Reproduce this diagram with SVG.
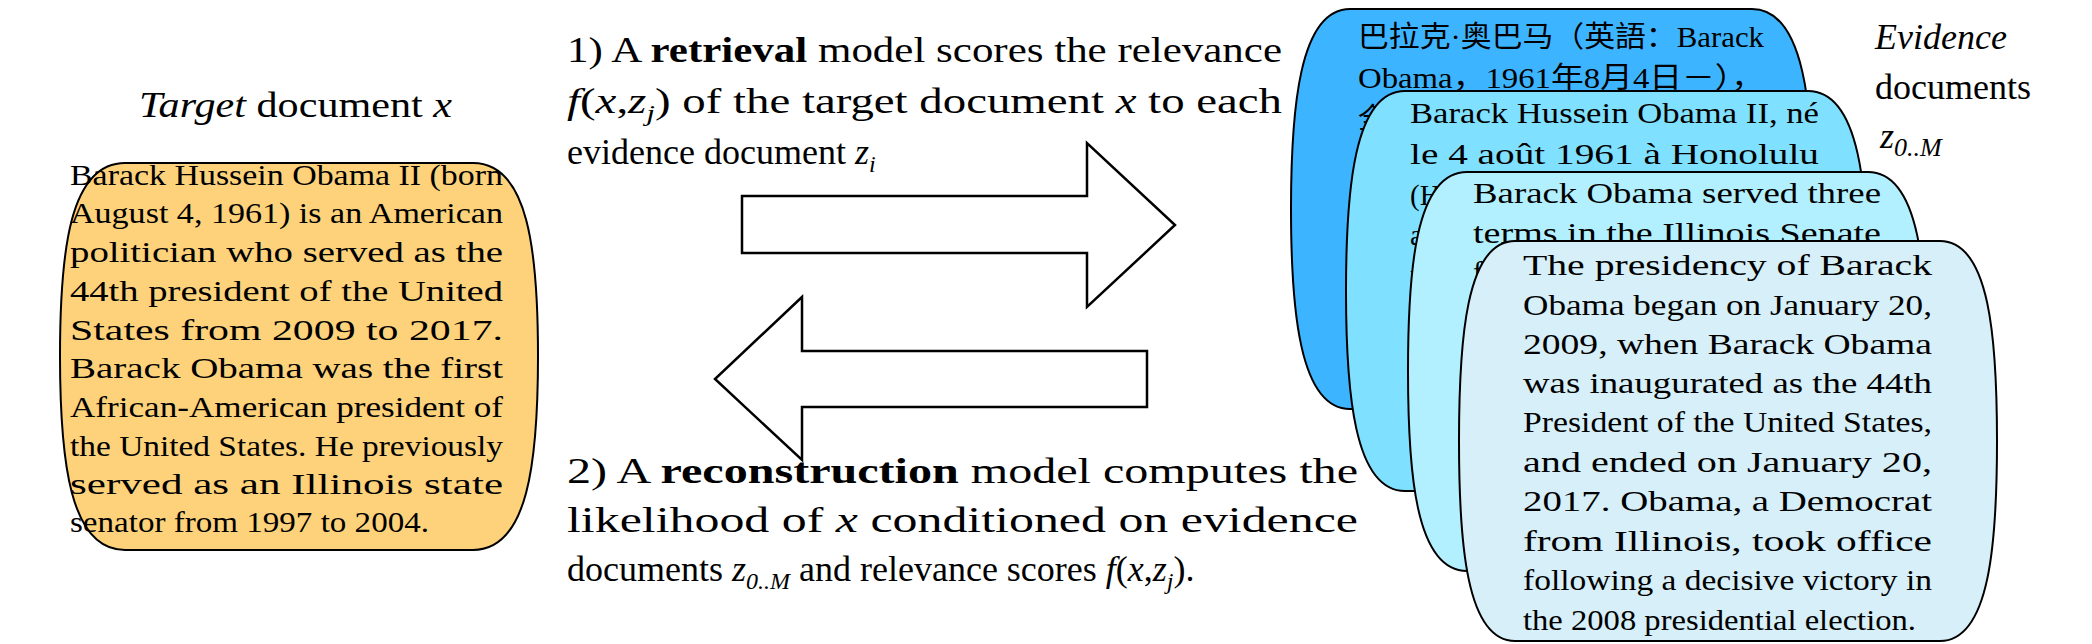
<svg xmlns="http://www.w3.org/2000/svg" width="2092" height="644" viewBox="0 0 2092 644">
<style>
text{font-family:"Liberation Serif","Noto Sans CJK SC",serif;fill:#000}
.b{font-size:29px}
.l{font-size:36px}
.blob{stroke:#000;stroke-width:2}
.arr{fill:#fff;stroke:#000;stroke-width:2.5}
.i{font-style:italic}
</style>
<rect width="2092" height="644" fill="#fff"/>
<g id="target-title"><text class="l" x="139" y="117" textLength="313" lengthAdjust="spacingAndGlyphs"><tspan class="i">Target</tspan> document <tspan class="i">x</tspan></text></g>
<g id="target">
<path class="blob" fill="#FDD27B" d="M125,163 H473 C528,163 538,250 538,356 C538,462 528,550 473,550 H125 C70,550 60,462 60,356 C60,250 70,163 125,163 Z"/>
<g class="b">
<text x="70" y="185" textLength="433" lengthAdjust="spacingAndGlyphs">Barack Hussein Obama II (born</text>
<text x="70" y="223" textLength="433" lengthAdjust="spacingAndGlyphs">August 4, 1961) is an American</text>
<text x="70" y="262" textLength="433" lengthAdjust="spacingAndGlyphs">politician  who  served  as  the</text>
<text x="70" y="301" textLength="433" lengthAdjust="spacingAndGlyphs">44th  president  of  the  United</text>
<text x="70" y="340" textLength="433" lengthAdjust="spacingAndGlyphs">States   from   2009   to   2017.</text>
<text x="70" y="378" textLength="433" lengthAdjust="spacingAndGlyphs">Barack  Obama  was  the  first</text>
<text x="70" y="417" textLength="433" lengthAdjust="spacingAndGlyphs">African-American  president  of</text>
<text x="70" y="456" textLength="433" lengthAdjust="spacingAndGlyphs">the United States. He previously</text>
<text x="70" y="494" textLength="433" lengthAdjust="spacingAndGlyphs">served   as   an   Illinois   state</text>
<text x="70" y="532" textLength="359" lengthAdjust="spacingAndGlyphs">senator from 1997 to 2004.</text>
</g>
</g>
<g id="connectors">
<path class="arr" d="M742,196 H1087 V143 L1175,225 L1087,307 V253 H742 Z"/>
<path class="arr" d="M1147,351 H802 V297 L715,379 L802,460 V407 H1147 Z"/>
</g>
<g id="label-retrieval" class="l">
<text x="567" y="62" textLength="715" lengthAdjust="spacingAndGlyphs">1) A <tspan font-weight="bold">retrieval</tspan> model scores the relevance</text>
<text x="567" y="113" textLength="715" lengthAdjust="spacingAndGlyphs"><tspan class="i">f</tspan>(<tspan class="i">x</tspan>,<tspan class="i">z</tspan><tspan class="i" font-size="24" dy="8">j</tspan><tspan dy="-8">)  of  the  target  document  </tspan><tspan class="i">x</tspan>  to  each</text>
<text x="567" y="164">evidence document <tspan class="i">z</tspan><tspan class="i" font-size="24" dy="8">i</tspan></text>
</g>
<g id="label-reconstruction" class="l">
<text x="567" y="483" textLength="791" lengthAdjust="spacingAndGlyphs">2)   A   <tspan font-weight="bold">reconstruction</tspan>   model   computes   the</text>
<text x="567" y="532" textLength="791" lengthAdjust="spacingAndGlyphs">likelihood   of   <tspan class="i">x</tspan>   conditioned   on   evidence</text>
<text x="567" y="581">documents <tspan class="i">z</tspan><tspan class="i" font-size="24" dy="8">0..M</tspan><tspan dy="-8"> and relevance scores </tspan><tspan class="i">f</tspan>(<tspan class="i">x</tspan>,<tspan class="i">z</tspan><tspan class="i" font-size="24" dy="8">j</tspan><tspan dy="-8">).</tspan></text>
</g>
<g id="evidence-label" class="l">
<text x="1875" y="49" class="i">Evidence</text>
<text x="1875" y="99">documents</text>
<text x="1880" y="148" class="i">z<tspan font-size="26" dy="8">0..M</tspan></text>
</g>
<g id="doc-zh">
<path class="blob" fill="#3DB4FF" d="M1350,9 H1752 C1805,9 1813,110 1813,209 C1813,308 1805,409 1752,409 H1350 C1299,409 1291,308 1291,209 C1291,110 1299,9 1350,9 Z"/>
<g class="b">
<text x="1358" y="47" textLength="406" lengthAdjust="spacingAndGlyphs">巴拉克·奥巴马（英語：Barack</text>
<text x="1358" y="88" textLength="406" lengthAdjust="spacingAndGlyphs">Obama，1961年8月4日－），</text>
<text x="1358" y="129">全</text>
</g>
</g>
<g id="doc-fr">
<path class="blob" fill="#80E0FF" d="M1405,91 H1808 C1860,91 1868,190 1868,291 C1868,392 1860,491 1808,491 H1405 C1354,491 1346,392 1346,291 C1346,190 1354,91 1405,91 Z"/>
<g class="b">
<text x="1410" y="123" textLength="409" lengthAdjust="spacingAndGlyphs">Barack Hussein Obama II, né</text>
<text x="1410" y="164" textLength="409" lengthAdjust="spacingAndGlyphs">le  4  août  1961  à  Honolulu</text>
<text x="1410" y="205">(Ha</text>
<text x="1410" y="245">ar</text>
<text x="1410" y="285">p</text>
</g>
</g>
<g id="doc-en1">
<path class="blob" fill="#B3F0FF" d="M1467,172 H1868 C1920,172 1927,272 1927,371 C1927,470 1920,571 1868,571 H1467 C1415,571 1408,470 1408,371 C1408,272 1415,172 1467,172 Z"/>
<g class="b">
<text x="1473" y="203" textLength="408" lengthAdjust="spacingAndGlyphs">Barack  Obama  served  three</text>
<text x="1473" y="243" textLength="408" lengthAdjust="spacingAndGlyphs">terms in the Illinois Senate</text>
<text x="1473" y="282">fr</text>
</g>
</g>
<g id="doc-en2">
<path class="blob" fill="#D6EFF8" d="M1515,241 H1940 C1990,241 1997,340 1997,441 C1997,542 1990,641 1940,641 H1515 C1466,641 1459,542 1459,441 C1459,340 1466,241 1515,241 Z"/>
<g class="b">
<text x="1523" y="275" textLength="409" lengthAdjust="spacingAndGlyphs">The   presidency   of   Barack</text>
<text x="1523" y="315" textLength="409" lengthAdjust="spacingAndGlyphs">Obama began on January 20,</text>
<text x="1523" y="354" textLength="409" lengthAdjust="spacingAndGlyphs">2009,  when  Barack  Obama</text>
<text x="1523" y="393" textLength="409" lengthAdjust="spacingAndGlyphs">was  inaugurated  as  the  44th</text>
<text x="1523" y="432" textLength="409" lengthAdjust="spacingAndGlyphs">President of the United States,</text>
<text x="1523" y="472" textLength="409" lengthAdjust="spacingAndGlyphs">and   ended   on   January   20,</text>
<text x="1523" y="511" textLength="409" lengthAdjust="spacingAndGlyphs">2017.  Obama,  a  Democrat</text>
<text x="1523" y="551" textLength="409" lengthAdjust="spacingAndGlyphs">from   Illinois,   took   office</text>
<text x="1523" y="590" textLength="409" lengthAdjust="spacingAndGlyphs">following a decisive victory in</text>
<text x="1523" y="630" textLength="393" lengthAdjust="spacingAndGlyphs">the 2008 presidential election.</text>
</g>
</g>
</svg>
